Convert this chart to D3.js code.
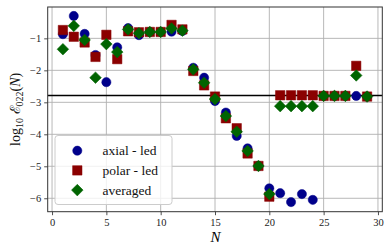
<!DOCTYPE html>
<html><head><meta charset="utf-8">
<script src="https://cdn.jsdelivr.net/npm/d3@7"></script>
<style>body{margin:0;background:#fff}svg{display:block}</style>
</head><body><svg id="c" width="390" height="252"></svg>
<script>
const N = d3.range(1, 30);
const axial = [-0.87,-0.30,-0.86,-1.52,-2.37,-1.28,-0.68,-0.90,-0.80,-0.80,-0.79,-0.77,-1.92,-2.23,-2.96,-3.32,-4.05,-4.44,-4.99,-5.69,-5.84,-6.12,-5.87,-6.05,-2.80,-2.80,-2.80,-2.80,-2.82];
const polar = [-0.74,-0.95,-1.13,-1.58,-0.89,-1.65,-0.78,-0.81,-0.80,-0.80,-0.58,-0.72,-2.02,-2.47,-2.82,-3.50,-3.81,-4.60,-4.99,-5.95,-2.78,-2.78,-2.78,-2.78,-2.80,-2.80,-2.80,-1.86,-2.82];
const averaged = [-1.34,-0.61,-1.05,-2.23,-1.18,-1.43,-0.72,-0.84,-0.80,-0.80,-0.69,-0.76,-1.97,-2.39,-2.90,-3.43,-3.92,-4.52,-4.99,-5.87,-3.12,-3.12,-3.12,-3.12,-2.80,-2.80,-2.80,-2.16,-2.82];
const refLine = -2.79;
const xTicks = [0,5,10,15,20,25,30];
const yTicks = [-6,-5,-4,-3,-2,-1];
const legendLabels = ["axial - led","polar - led","averaged"];

const L=47.7, T=7, R=382.3, B=211.7;
const svg = d3.select("#c");
const x = d3.scaleLinear().domain([-0.4,30.4]).range([L,R]);
const y = d3.scaleLinear().domain([-6.42,-0.02]).range([B,T]);
const font = "'Liberation Serif', 'DejaVu Serif', serif";

// grid
svg.append("g").selectAll("line").data(xTicks).join("line")
  .attr("x1",d=>x(d)).attr("x2",d=>x(d)).attr("y1",T).attr("y2",B)
  .attr("stroke","#b0b0b0").attr("stroke-width",0.9);
svg.append("g").selectAll("line").data(yTicks).join("line")
  .attr("y1",d=>y(d)).attr("y2",d=>y(d)).attr("x1",L).attr("x2",R)
  .attr("stroke","#b0b0b0").attr("stroke-width",0.9);

// axes
const xAxis = svg.append("g").attr("transform",`translate(0,${B})`)
  .call(d3.axisBottom(x).tickValues(xTicks).tickSize(3.5).tickPadding(3).tickFormat(d3.format("d")));
const yAxis = svg.append("g").attr("transform",`translate(${L},0)`)
  .call(d3.axisLeft(y).tickValues(yTicks).tickSize(3.5).tickPadding(3).tickFormat(d=>"\u2212"+Math.abs(d)));
[xAxis,yAxis].forEach(a=>{
  a.select(".domain").remove();
  a.selectAll(".tick line").attr("stroke","#222").attr("stroke-width",0.8);
  a.selectAll(".tick text").attr("font-family",font).attr("font-size",10.5).attr("fill","#222");
});

// reference line
svg.append("line").attr("x1",L).attr("x2",R).attr("y1",y(refLine)).attr("y2",y(refLine))
  .attr("stroke","#000").attr("stroke-width",1.5);

const sym = {
  circle: d3.symbol().type(d3.symbolCircle).size(Math.PI*4.6*4.6),
  square: d3.symbol().type(d3.symbolSquare).size(9.4*9.4),
  diamond: d3.symbol().type(d3.symbolSquare).size(8.2*8.2)
};
const series = [
  {vals:axial, color:"#00008b", shape:"circle", rot:0},
  {vals:polar, color:"#8b0000", shape:"square", rot:0},
  {vals:averaged, color:"#006400", shape:"diamond", rot:45}
];
const plot = svg.append("g");
series.forEach(s=>{
  plot.append("g").selectAll("path").data(N).join("path")
    .attr("d", sym[s.shape]())
    .attr("transform",(d,i)=>`translate(${x(d)},${y(s.vals[i])}) rotate(${s.rot})`)
    .attr("fill",s.color).attr("stroke",s.color).attr("stroke-width",0.5);
});

// frame
svg.append("rect").attr("x",L).attr("y",T).attr("width",R-L).attr("height",B-T)
  .attr("fill","none").attr("stroke","#333").attr("stroke-width",1);

// legend
const lg = svg.append("g");
lg.append("rect").attr("x",55).attr("y",135.5).attr("width",117).attr("height",69)
  .attr("rx",3).attr("fill","rgba(255,255,255,0.8)").attr("stroke","#ccc").attr("stroke-width",1);
series.forEach((s,i)=>{
  const yy = 150.7 + i*19.7;
  lg.append("path").attr("d",sym[s.shape]())
    .attr("transform",`translate(77.3,${yy}) rotate(${s.rot})`)
    .attr("fill",s.color).attr("stroke",s.color).attr("stroke-width",0.5);
  lg.append("text").attr("x",102.5).attr("y",yy+4.5).text(legendLabels[i])
    .attr("font-family",font).attr("font-size",13.5).attr("fill","#111");
});

// x label
svg.append("text").attr("x",(L+R)/2+0.5).attr("y",242).attr("text-anchor","middle")
  .attr("font-family",font).attr("font-size",15).attr("font-style","italic").text("N");

// y label
const yl = svg.append("text").attr("transform",`translate(20,${(T+B)/2}) rotate(-90)`)
  .attr("text-anchor","middle").attr("font-family",font).attr("font-size",14).attr("fill","#111");
yl.append("tspan").text("log");
yl.append("tspan").attr("font-size",10).attr("dy",3).text("10");
yl.append("tspan").attr("dy",-3).text(" \u2130");
yl.append("tspan").attr("font-size",10).attr("dy",3).text("022");
yl.append("tspan").attr("dy",-3).text("(");
yl.append("tspan").attr("font-style","italic").text("N");
yl.append("tspan").text(")");
</script></body></html>
